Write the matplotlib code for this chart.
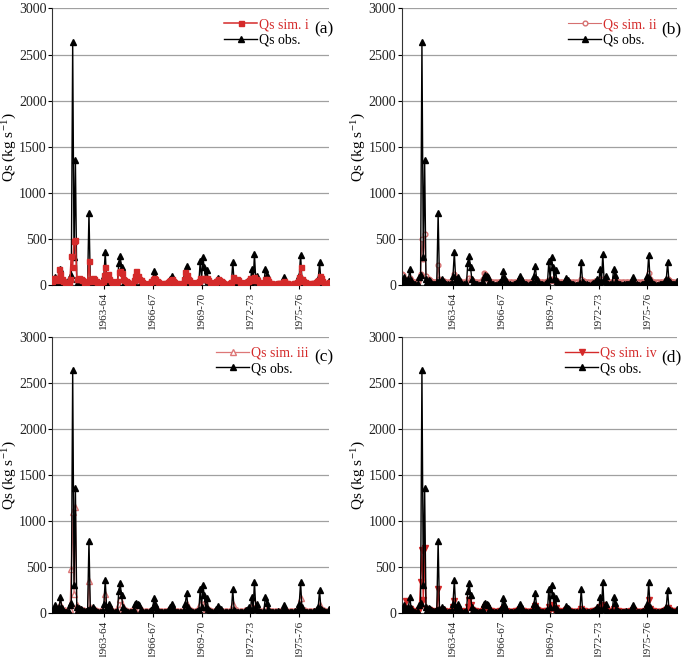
import numpy as np
import matplotlib
matplotlib.use("Agg")
from matplotlib import pyplot as plt

plt.rcParams['font.family'] = ['Liberation Serif', 'DejaVu Serif']
plt.rcParams['mathtext.fontset'] = 'stix'

# monthly sediment discharge, hydrological years 1960-61 .. 1977-78
qs_obs = [15, 25, 85, 45, 20, 60, 175, 50, 20, 10, 6, 5,
          12, 85, 110, 2640, 300, 1360, 60, 30, 50, 40, 25, 15,
          10, 15, 30, 780, 40, 20, 60, 35, 15, 10, 8, 5,
          10, 20, 100, 355, 60, 30, 90, 45, 20, 10, 6, 5,
          20, 240, 320, 190, 60, 25, 15, 10, 8, 5, 5, 10,
          30, 90, 110, 100, 85, 30, 15, 10, 8, 5, 5, 10,
          15, 30, 60, 155, 90, 40, 20, 10, 8, 5, 5, 10,
          10, 20, 40, 60, 100, 50, 20, 10, 8, 5, 5, 10,
          10, 30, 100, 210, 60, 25, 15, 10, 8, 5, 10, 20,
          30, 255, 60, 300, 190, 60, 165, 40, 20, 10, 6, 8,
          20, 40, 76, 50, 36, 20, 10, 8, 5, 5, 5, 10,
          20, 253, 30, 15, 10, 8, 5, 5, 5, 10, 20, 30,
          40, 60, 30, 175, 40, 337, 40, 94, 20, 10, 8, 5,
          20, 175, 110, 40, 15, 10, 8, 5, 5, 10, 15, 10,
          10, 20, 30, 83, 20, 10, 8, 5, 5, 5, 10, 15,
          20, 40, 94, 330, 60, 20, 10, 8, 5, 5, 5, 10,
          10, 15, 20, 40, 60, 246, 40, 30, 15, 10, 8, 5,
          40]

qs_sim_i = [40, 75, 80, 60, 50, 175, 120, 60, 40, 30, 25, 20,
            25, 60, 320, 200, 480, 490, 70, 60, 80, 70, 50, 35,
            25, 30, 40, 265, 60, 40, 80, 60, 40, 30, 20, 15,
            20, 40, 110, 190, 80, 120, 70, 40, 30, 20, 15, 15,
            40, 140, 150, 130, 60, 50, 40, 30, 20, 15, 15, 20,
            50, 100, 155, 100, 70, 50, 30, 20, 15, 15, 15, 20,
            25, 40, 60, 80, 60, 45, 30, 20, 15, 15, 15, 20,
            20, 30, 40, 50, 60, 45, 30, 20, 15, 15, 15, 20,
            25, 60, 140, 110, 70, 50, 30, 20, 15, 15, 20, 30,
            40, 80, 60, 80, 70, 60, 80, 50, 30, 20, 15, 20,
            25, 40, 60, 50, 40, 30, 20, 15, 15, 15, 15, 20,
            30, 90, 60, 50, 60, 50, 35, 25, 20, 20, 25, 35,
            40, 50, 80, 70, 50, 90, 60, 50, 30, 20, 15, 15,
            25, 60, 60, 40, 25, 20, 15, 15, 15, 15, 20, 20,
            20, 25, 30, 40, 25, 20, 15, 15, 15, 15, 20, 25,
            30, 40, 90, 190, 70, 40, 30, 20, 15, 15, 15, 20,
            20, 25, 30, 40, 50, 100, 80, 40, 25, 20, 15, 15,
            30]

qs_sim_ii = [120, 110, 60, 50, 40, 60, 80, 50, 40, 35, 30, 30,
             30, 60, 120, 500, 280, 550, 100, 60, 60, 50, 40, 35,
             30, 30, 40, 220, 60, 40, 50, 45, 35, 30, 30, 30,
             30, 40, 60, 120, 70, 60, 50, 40, 30, 30, 30, 30,
             35, 60, 80, 70, 50, 40, 35, 30, 30, 30, 30, 35,
             60, 130, 120, 90, 60, 40, 35, 30, 30, 30, 30, 30,
             30, 35, 40, 50, 50, 40, 35, 30, 30, 30, 30, 30,
             30, 35, 40, 45, 50, 40, 35, 30, 30, 30, 30, 30,
             30, 40, 50, 70, 50, 40, 35, 30, 30, 30, 30, 35,
             40, 50, 45, 60, 55, 45, 50, 40, 35, 30, 30, 30,
             30, 35, 40, 40, 35, 30, 30, 30, 30, 30, 30, 30,
             35, 60, 45, 40, 35, 30, 30, 30, 30, 30, 35, 40,
             40, 45, 50, 60, 50, 70, 45, 40, 35, 30, 30, 30,
             35, 50, 45, 40, 35, 30, 30, 30, 30, 30, 30, 30,
             30, 30, 35, 40, 35, 30, 30, 30, 30, 30, 30, 30,
             35, 40, 60, 130, 60, 40, 35, 30, 30, 30, 30, 30,
             30, 30, 35, 40, 50, 70, 50, 40, 35, 30, 30, 30,
             35]

qs_sim_iii = [20, 30, 40, 30, 25, 50, 100, 40, 30, 25, 20, 20,
              20, 40, 480, 1100, 200, 1150, 80, 40, 40, 35, 30, 25,
              20, 20, 30, 350, 60, 30, 40, 35, 25, 20, 20, 20,
              20, 30, 60, 200, 60, 50, 50, 35, 25, 20, 20, 20,
              30, 100, 150, 90, 50, 35, 25, 20, 20, 20, 20, 25,
              40, 60, 80, 70, 50, 35, 25, 20, 20, 20, 20, 20,
              20, 25, 30, 70, 40, 30, 25, 20, 20, 20, 20, 20,
              20, 25, 30, 35, 50, 35, 25, 20, 20, 20, 20, 20,
              20, 30, 50, 90, 40, 30, 25, 20, 20, 20, 20, 25,
              30, 90, 40, 100, 70, 35, 60, 30, 25, 20, 20, 20,
              20, 25, 35, 30, 25, 20, 20, 20, 20, 20, 20, 20,
              25, 90, 35, 30, 25, 20, 20, 20, 20, 20, 25, 30,
              30, 35, 40, 70, 35, 120, 40, 45, 25, 20, 20, 20,
              25, 60, 45, 30, 25, 20, 20, 20, 20, 20, 20, 20,
              20, 20, 25, 35, 25, 20, 20, 20, 20, 20, 20, 20,
              25, 30, 50, 160, 50, 30, 25, 20, 20, 20, 20, 20,
              20, 20, 25, 30, 40, 80, 40, 30, 25, 20, 20, 20,
              30]

qs_sim_iv = [10, 20, 40, 130, 30, 20, 40, 20, 15, 10, 10, 10,
             10, 30, 330, 680, 140, 700, 40, 20, 30, 20, 15, 10,
             10, 10, 20, 260, 30, 15, 25, 20, 10, 10, 10, 10,
             10, 20, 60, 130, 40, 30, 30, 20, 10, 10, 10, 10,
             15, 60, 140, 80, 30, 20, 15, 10, 10, 10, 10, 10,
             20, 40, 60, 50, 30, 20, 15, 10, 10, 10, 10, 10,
             10, 15, 20, 40, 25, 15, 10, 10, 10, 10, 10, 10,
             10, 15, 20, 25, 30, 20, 15, 10, 10, 10, 10, 10,
             10, 20, 40, 70, 30, 20, 15, 10, 10, 10, 10, 15,
             20, 60, 30, 80, 50, 25, 50, 20, 15, 10, 10, 10,
             10, 15, 25, 20, 15, 10, 10, 10, 10, 10, 10, 10,
             15, 40, 20, 15, 10, 10, 10, 10, 10, 10, 15, 20,
             20, 25, 30, 60, 25, 80, 25, 30, 15, 10, 10, 10,
             15, 40, 30, 20, 15, 10, 10, 10, 10, 10, 10, 10,
             10, 10, 15, 25, 15, 10, 10, 10, 10, 10, 10, 10,
             15, 20, 40, 140, 40, 20, 15, 10, 10, 10, 10, 10,
             10, 10, 15, 20, 30, 50, 30, 20, 15, 10, 10, 10,
             20]

tick_pos = [38, 74, 110, 146, 182]
tick_labels = ['1963-64', '1966-67', '1969-70', '1972-73', '1975-76']

red = '#d42a2a'
months = np.arange(len(qs_obs))

panels = [
    ('(a)', 'Qs sim. i', qs_sim_i, dict(color=red, lw=1.1, marker='s', ms=3.6,
                                        mfc=red, mec=red), 4),
    ('(b)', 'Qs sim. ii', qs_sim_ii, dict(color='#d67070', lw=0.8, marker='o', ms=3.4,
                                          mfc='white', mec='#d67070'), 2),
    ('(c)', 'Qs sim. iii', qs_sim_iii, dict(color='#dd7777', lw=0.9, marker='^', ms=3.8,
                                            mfc='white', mec='#dd7777'), 2),
    ('(d)', 'Qs sim. iv', qs_sim_iv, dict(color=red, lw=1.0, marker='v', ms=4.0,
                                          mfc=red, mec=red), 2),
]

# axes boxes in figure fractions
boxes = [(0.0764, 0.5662, 0.404, 0.421),
         (0.5864, 0.5662, 0.402, 0.421),
         (0.0764, 0.0674, 0.404, 0.420),
         (0.5864, 0.0674, 0.402, 0.420)]

fig = plt.figure(figsize=(6.85, 6.57), dpi=100)

for box, (tag, name, sim, style, zsim) in zip(boxes, panels):
    ax = fig.add_axes(box)
    ax.plot(months, sim, label=name, zorder=zsim, **style)
    ax.plot(months, qs_obs, color='black', lw=1.0, marker='^', ms=4.4,
            mfc='black', mec='black', label='Qs obs.', zorder=3)

    ax.set_xlim(0, len(qs_obs) - 1)
    ax.set_ylim(0, 3000)
    ax.set_yticks(np.arange(0, 3001, 500))
    ax.set_xticks(tick_pos)
    ax.set_xticklabels(tick_labels, rotation=90, fontsize=8)
    ax.tick_params(axis='y', labelsize=10, length=3, width=0.8, pad=1,
                   labelcolor='#222222')
    ax.tick_params(axis='x', length=3, width=0.8, pad=2, labelcolor='#222222')
    ax.yaxis.grid(True, color='#a0a0a0', lw=0.9)
    ax.set_axisbelow(True)
    for s in ['top', 'right']:
        ax.spines[s].set_visible(False)
    ax.spines['left'].set_color('#333333')
    ax.spines['bottom'].set_color('#333333')
    ax.set_ylabel('Qs (kg s$^{\\mathregular{-1}}$)', fontsize=11, labelpad=1)

    leg = ax.legend(loc='upper right', bbox_to_anchor=(0.925, 0.965), frameon=False,
                    fontsize=10, handlelength=2.4, handletextpad=0.1,
                    borderpad=0, borderaxespad=0, labelspacing=0.2)
    leg.get_texts()[0].set_color(red)
    ax.text(1.015, 0.925, tag, transform=ax.transAxes, ha='right', va='center',
            fontsize=12.5)

fig.savefig('out.png', dpi=100)
